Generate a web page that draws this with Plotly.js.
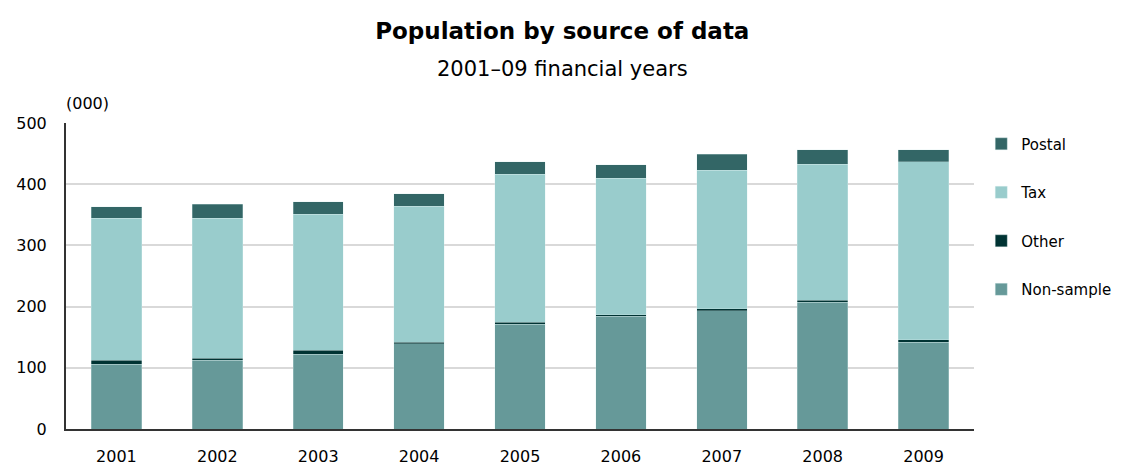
<!DOCTYPE html>
<html>
<head>
<meta charset="utf-8">
<script src="https://cdn.plot.ly/plotly-3.0.1.min.js"></script>
<style>html,body{margin:0;padding:0;background:#fff;}#chart{width:1136px;height:465px;}</style>
</head>
<body>
<div id="chart"></div>
<script>
var years = ['2001','2002','2003','2004','2005','2006','2007','2008','2009'];
var nonSample = [105.5, 112.5, 122, 139, 171.5, 184, 193.5, 207, 141.5];
var other = [7, 3.5, 7, 3, 3, 3, 3.3, 3.5, 4];
var tax = [232, 228.5, 222, 222, 242, 223, 226, 222, 291];
var postal = [19, 23, 20, 20, 20, 22, 26.5, 23.5, 19.5];
var yTicks = [0, 100, 200, 300, 400, 500];

var seriesNames = ['Non-sample', 'Other', 'Tax', 'Postal'];
var seriesValues = [nonSample, other, tax, postal];
var seriesColors = ['#669999', '#003333', '#99cccc', '#336666'];
var legendRanks = [4, 3, 2, 1];

var font = 'DejaVu Sans, Verdana, sans-serif';
var traces = seriesNames.map(function (n, i) {
  return {
    type: 'bar', name: n, x: years, y: seriesValues[i],
    legendgroup: n, legendrank: legendRanks[i],
    marker: {color: seriesColors[i], line: {color: 'rgba(220,240,240,0.6)', width: 0.5}},
    hoverinfo: 'x+y+name'
  };
});

var layout = {
  width: 1136, height: 465,
  margin: {l: 66, r: 162, t: 123, b: 36},
  barmode: 'stack', bargap: 0.5,
  paper_bgcolor: '#fff', plot_bgcolor: '#fff',
  font: {family: font, size: 15, color: '#000'},
  title: {text: '<b>Population by source of data</b>', x: 0.495, xanchor: 'center', y: 0.933, yanchor: 'middle', yref: 'container',
          font: {family: font, size: 23, color: '#000'}},
  annotations: [
    {text: '2001\u201309 financial years', xref: 'paper', yref: 'paper', x: 0.547, y: 1.0, yshift: 54, xanchor: 'center', yanchor: 'middle', showarrow: false,
     font: {family: font, size: 21, color: '#000'}},
    {text: '(000)', xref: 'paper', yref: 'paper', x: 0, y: 1, xshift: -2, yshift: 20, xanchor: 'left', yanchor: 'middle', showarrow: false,
     font: {family: font, size: 16, color: '#000'}}
  ],
  xaxis: {type: 'category', showline: true, linecolor: '#333', linewidth: 2, ticks: '', showgrid: false,
          tickfont: {family: font, size: 16}, ticklabelstandoff: 12, fixedrange: true},
  yaxis: {range: [0, 500], tickvals: yTicks, showline: true, linecolor: '#333', linewidth: 2, ticks: '',
          gridcolor: '#d9d9d9', gridwidth: 2, zeroline: false,
          tickfont: {family: font, size: 16}, ticklabelstandoff: 14, fixedrange: true},
  legend: {x: 1.008, xanchor: 'left', y: 0.985, yanchor: 'top', traceorder: 'grouped', tracegroupgap: 26,
           font: {family: font, size: 15}, itemwidth: 30, bgcolor: 'rgba(0,0,0,0)'},
  showlegend: true
};

Plotly.newPlot('chart', traces, layout, {displayModeBar: false, staticPlot: false});
</script>
</body>
</html>
